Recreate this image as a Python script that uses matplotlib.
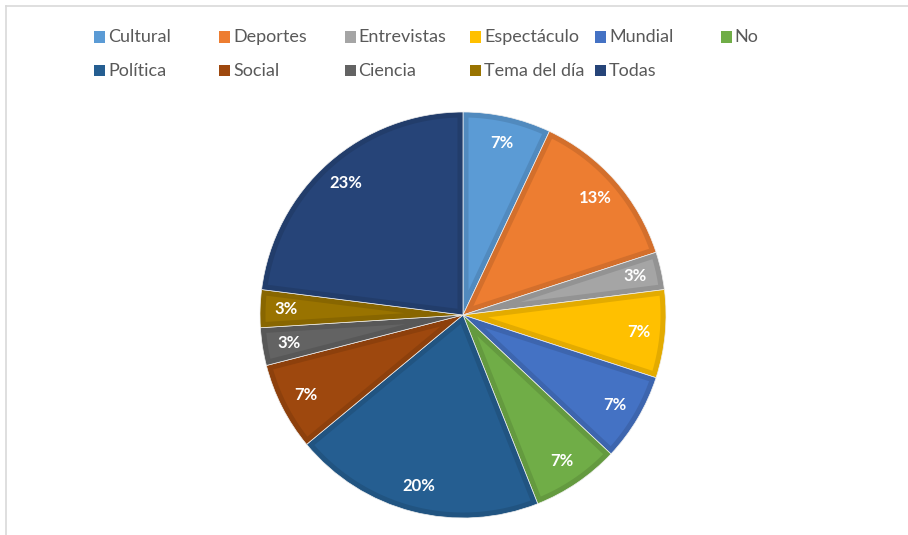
import numpy as np
import matplotlib.pyplot as plt
import matplotlib.colors as mcolors
from matplotlib.patches import Rectangle, Polygon
from matplotlib.lines import Line2D

CATEGORIES = ["Cultural", "Deportes", "Entrevistas", "Espectáculo", "Mundial", "No",
              "Política", "Social", "Ciencia", "Tema del día", "Todas"]
SHARES = [7, 13, 3, 7, 7, 7, 20, 7, 3, 3, 23]
COLORS = ["#5B9BD5", "#ED7D31", "#A5A5A5", "#FFC000", "#4472C4", "#70AD47",
          "#255E91", "#9E480E", "#636363", "#997300", "#264478"]

W, H = 908, 535
plt.rcParams['font.family'] = ['Lato', 'DejaVu Sans']
INSET = 0.027  # border width as a fraction of the radius


def darker(c, f=0.89):
    r, g, b = mcolors.to_rgb(c)
    return (r * f, g * f, b * f)


def inset_wedge(w, d):
    # region of a wedge that lies at least d away from its outline
    t1, t2 = np.radians(w.theta1), np.radians(w.theta2)
    half = (t2 - t1) / 2
    mid = t1 + half
    R = w.r - d
    apex = np.array([np.cos(mid), np.sin(mid)]) * d / np.sin(half)
    delta = np.arcsin(d / R)
    ang = np.linspace(t1 + delta, t2 - delta, 80)
    arc = np.column_stack([R * np.cos(ang), R * np.sin(ang)])
    return np.vstack([apex, arc])


fig = plt.figure(figsize=(W / 100, H / 100), dpi=100)

# pie axes: center (463, 315), radius ~203 px
cx, cy, r = 463, 315, 203
ax = fig.add_axes([(cx - r) / W, 1 - (cy + r) / H, 2 * r / W, 2 * r / H])

wedges, texts, autotexts = ax.pie(
    SHARES, colors=[darker(c) for c in COLORS], startangle=90, counterclock=False,
    autopct=lambda p: f"{p:.0f}%", pctdistance=0.87,
    textprops=dict(color="white", fontsize=12, fontweight="bold"),
    wedgeprops=dict(linewidth=0.5, edgecolor="#f0f0f0"))

for w, c in zip(wedges, COLORS):
    ax.add_patch(Polygon(inset_wedge(w, INSET), closed=True, facecolor=c,
                         edgecolor="none", zorder=2))
for t in autotexts:
    t.set_zorder(5)

ax.set_aspect("equal")
ax.set_xlim(-1.0, 1.0)
ax.set_ylim(-1.0, 1.0)

# legend laid out as Excel does: fixed column pitch, two rows
for i, (name, col) in enumerate(zip(CATEGORIES, COLORS)):
    row, colpos = divmod(i, 6)
    x0 = 94 + 125.3 * colpos
    y0 = 37 + 34 * row
    fig.patches.append(Rectangle((x0 / W, 1 - (y0 + 5.5) / H), 11 / W, 11 / H,
                                 transform=fig.transFigure, facecolor=col, edgecolor="none"))
    fig.text((x0 + 14) / W, 1 - y0 / H, name, fontsize=13, color="#595959",
             ha="left", va="center")

# chart frame lines (top and left)
fig.add_artist(Line2D([6 / W, 1], [1 - 6 / H, 1 - 6 / H], transform=fig.transFigure,
                      color="#d9d9d9", linewidth=1.2))
fig.add_artist(Line2D([6 / W, 6 / W], [0, 1 - 6 / H], transform=fig.transFigure,
                      color="#d9d9d9", linewidth=1.2))

fig.savefig("out.png", dpi=100, facecolor="white")
